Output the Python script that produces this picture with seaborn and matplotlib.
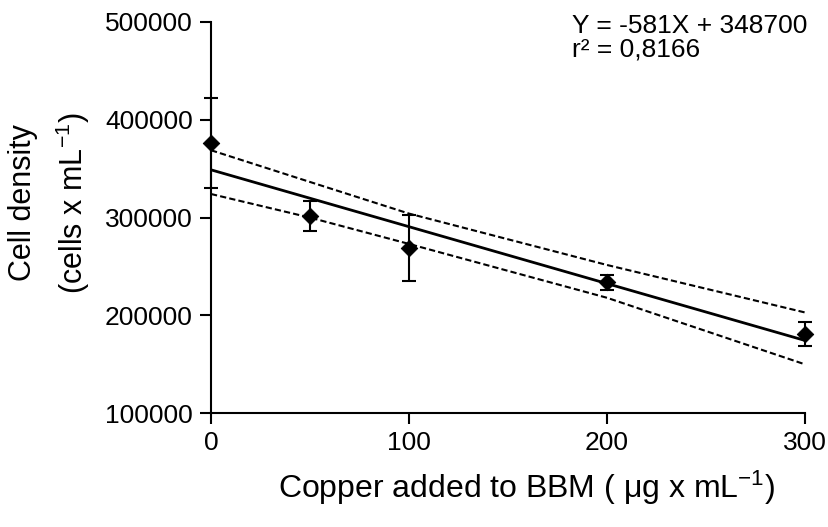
import matplotlib
matplotlib.use('Agg')
import matplotlib.pyplot as plt
import seaborn as sns
import pandas as pd

# data
conc = [0, 50, 100, 200, 300]
density = [376000, 301300, 268600, 234000, 181100]
err = [45700, 15300, 33700, 7700, 12600]

# regression line Y = -581X + 348700
fit_x = [0, 300]
fit_y = [348700, 174400]

# 95% confidence band
band_x = [0, 50, 100, 200, 300]
band_upper = [368700, 336300, 304000, 251500, 203000]
band_lower = [324000, 299900, 273000, 218000, 150000]

x_ticks = [0, 100, 200, 300]
y_ticks = [100000, 200000, 300000, 400000, 500000]

sns.set_style('ticks')
plt.rcParams['font.family'] = ['Liberation Sans', 'DejaVu Sans']
plt.rcParams['mathtext.fontset'] = 'custom'
plt.rcParams['mathtext.rm'] = 'Liberation Sans'
plt.rcParams['mathtext.default'] = 'regular'
plt.rcParams['text.color'] = 'black'

df = pd.DataFrame({'conc': conc, 'density': density, 'err': err})
fit = pd.DataFrame({'x': fit_x, 'y': fit_y})
band = pd.DataFrame({'x': band_x, 'up': band_upper, 'low': band_lower})

fig = plt.figure(figsize=(8.29, 5.27), dpi=100)
ax = fig.add_axes([211 / 829, 1 - 413.3 / 527, 594 / 829, 391.6 / 527])

# fit and confidence band
sns.lineplot(data=fit, x='x', y='y', ax=ax, color='black', linewidth=2.0)
sns.lineplot(data=band, x='x', y='up', ax=ax, color='black', linewidth=1.5,
             linestyle=(0, (3, 1.5)))
sns.lineplot(data=band, x='x', y='low', ax=ax, color='black', linewidth=1.5,
             linestyle=(0, (3, 1.5)))

# means with error bars
ax.errorbar(df['conc'], df['density'], yerr=df['err'], fmt='none',
            ecolor='black', elinewidth=1.5, capsize=5, capthick=1.5,
            clip_on=False, zorder=4)
sns.scatterplot(data=df, x='conc', y='density', ax=ax, marker='D', s=70,
                color='black', edgecolor='black', zorder=5, clip_on=False)

ax.set_xlim(0, 300)
ax.set_ylim(100000, 500000)
ax.set_xticks(x_ticks)
ax.set_yticks(y_ticks)
ax.tick_params(labelsize=19, width=1.5, length=8, pad=5, colors='black')
ax.set_xlabel('')
ax.set_ylabel('')
sns.despine(ax=ax)
for s in ['left', 'bottom']:
    ax.spines[s].set_linewidth(1.5)
    ax.spines[s].set_color('black')

# axis titles
fig.text(526 / 829, 1 - 488 / 527, r'Copper added to BBM ( $\mu$g x mL$^{-1}$)',
         fontsize=23, ha='center', va='center')
fig.text(23 / 829, 1 - 203 / 527, 'Cell density', fontsize=22,
         rotation=90, ha='center', va='center')
fig.text(73 / 829, 1 - 203 / 527, r'(cells x mL$^{-1}$)', fontsize=22,
         rotation=90, ha='center', va='center')

# equation
fig.text(572 / 829, 1 - 14 / 527, 'Y = -581X + 348700\nr\u00b2 = 0,8166',
         fontsize=19, ha='left', va='top', linespacing=0.95)

fig.savefig('out.png', dpi=100, facecolor='white')
